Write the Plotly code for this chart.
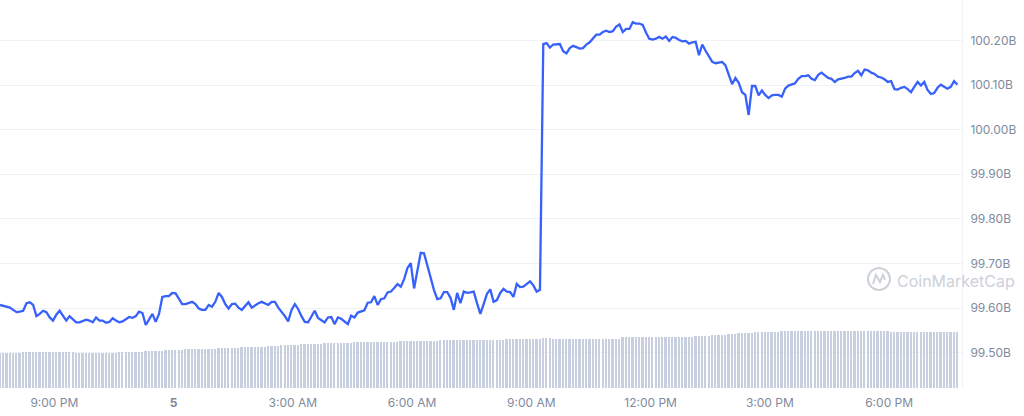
import pandas as pd
import plotly.graph_objects as go

# ---- data ----
start_time = "2023-06-04 19:38"
n_points = 290
times = pd.date_range(start_time, periods=n_points, freq="5min")

market_cap_b = [
    99.607, 99.605, 99.604, 99.601, 99.596, 99.591, 99.592, 99.594, 99.611, 99.613,
    99.607, 99.582, 99.587, 99.594, 99.591, 99.579, 99.572, 99.585, 99.594, 99.582,
    99.572, 99.582, 99.576, 99.568, 99.568, 99.571, 99.574, 99.572, 99.568, 99.579,
    99.572, 99.572, 99.567, 99.569, 99.577, 99.572, 99.568, 99.570, 99.576, 99.580,
    99.578, 99.582, 99.592, 99.589, 99.562, 99.573, 99.587, 99.569, 99.587, 99.625,
    99.627, 99.627, 99.634, 99.633, 99.622, 99.609, 99.609, 99.611, 99.614, 99.609,
    99.599, 99.596, 99.596, 99.607, 99.603, 99.614, 99.634, 99.625, 99.609, 99.599,
    99.609, 99.610, 99.601, 99.596, 99.605, 99.613, 99.601, 99.607, 99.611, 99.614,
    99.611, 99.607, 99.614, 99.614, 99.601, 99.592, 99.582, 99.570, 99.596, 99.609,
    99.598, 99.582, 99.569, 99.568, 99.582, 99.594, 99.578, 99.572, 99.568, 99.579,
    99.580, 99.564, 99.579, 99.576, 99.569, 99.564, 99.583, 99.579, 99.590, 99.593,
    99.595, 99.612, 99.613, 99.627, 99.607, 99.620, 99.622, 99.635, 99.637, 99.645,
    99.654, 99.648, 99.665, 99.690, 99.701, 99.644, 99.685, 99.724, 99.723, 99.694,
    99.665, 99.641, 99.620, 99.622, 99.636, 99.636, 99.623, 99.596, 99.634, 99.611,
    99.637, 99.634, 99.635, 99.637, 99.611, 99.587, 99.609, 99.632, 99.642, 99.614,
    99.618, 99.634, 99.643, 99.637, 99.636, 99.625, 99.654, 99.647, 99.648, 99.654,
    99.660, 99.651, 99.637, 99.641, 100.192, 100.194, 100.184, 100.191, 100.191, 100.192,
    100.176, 100.171, 100.183, 100.188, 100.185, 100.182, 100.183, 100.191, 100.196, 100.204,
    100.213, 100.213, 100.219, 100.222, 100.219, 100.221, 100.231, 100.236, 100.219, 100.226,
    100.226, 100.241, 100.238, 100.238, 100.235, 100.218, 100.204, 100.202, 100.204, 100.208,
    100.204, 100.209, 100.199, 100.208, 100.206, 100.201, 100.198, 100.199, 100.193, 100.196,
    100.197, 100.167, 100.191, 100.177, 100.163, 100.152, 100.149, 100.150, 100.152, 100.144,
    100.123, 100.102, 100.116, 100.105, 100.084, 100.078, 100.033, 100.098, 100.098, 100.077,
    100.088, 100.078, 100.071, 100.077, 100.078, 100.078, 100.074, 100.092, 100.099, 100.102,
    100.104, 100.114, 100.120, 100.120, 100.122, 100.114, 100.111, 100.123, 100.128, 100.122,
    100.116, 100.114, 100.107, 100.113, 100.114, 100.116, 100.119, 100.119, 100.127, 100.132,
    100.122, 100.135, 100.133, 100.128, 100.125, 100.119, 100.117, 100.113, 100.107, 100.109,
    100.091, 100.090, 100.094, 100.096, 100.091, 100.084, 100.096, 100.107, 100.099, 100.107,
    100.089, 100.080, 100.082, 100.094, 100.101, 100.096, 100.092, 100.096, 100.109, 100.101,
]

volume_b = [
    3.5, 3.5, 3.5, 3.5, 3.5, 3.5, 3.5, 3.6, 3.6, 3.6,
    3.6, 3.6, 3.6, 3.6, 3.6, 3.6, 3.6, 3.6, 3.6, 3.6,
    3.6, 3.6, 3.6, 3.5, 3.5, 3.5, 3.5, 3.5, 3.5, 3.5,
    3.5, 3.5, 3.5, 3.5, 3.5, 3.5, 3.6, 3.6, 3.6, 3.6,
    3.6, 3.6, 3.6, 3.6, 3.7, 3.7, 3.7, 3.7, 3.7, 3.7,
    3.8, 3.8, 3.8, 3.8, 3.8, 3.8, 3.9, 3.9, 3.9, 3.9,
    3.9, 3.9, 3.9, 3.9, 3.9, 3.9, 4.0, 4.0, 4.0, 4.0,
    4.0, 4.0, 4.0, 4.1, 4.1, 4.1, 4.1, 4.1, 4.1, 4.1,
    4.1, 4.2, 4.2, 4.2, 4.2, 4.3, 4.3, 4.3, 4.3, 4.3,
    4.3, 4.4, 4.4, 4.4, 4.4, 4.4, 4.4, 4.4, 4.5, 4.5,
    4.5, 4.5, 4.5, 4.5, 4.5, 4.5, 4.5, 4.6, 4.6, 4.6,
    4.6, 4.6, 4.6, 4.6, 4.6, 4.6, 4.6, 4.6, 4.6, 4.6,
    4.6, 4.7, 4.7, 4.7, 4.7, 4.7, 4.7, 4.7, 4.7, 4.7,
    4.7, 4.7, 4.7, 4.8, 4.8, 4.8, 4.8, 4.8, 4.8, 4.8,
    4.8, 4.8, 4.8, 4.8, 4.8, 4.8, 4.8, 4.8, 4.8, 4.8,
    4.8, 4.8, 4.8, 4.95, 4.95, 4.95, 4.95, 4.95, 4.95, 4.95,
    4.95, 4.95, 4.95, 4.95, 5.05, 5.05, 5.05, 4.95, 4.95, 4.95,
    4.95, 4.95, 4.95, 4.95, 4.95, 4.95, 4.95, 4.95, 4.95, 4.95,
    4.95, 4.95, 4.95, 4.95, 4.95, 4.95, 4.95, 4.95, 5.1, 5.1,
    5.1, 5.1, 5.1, 5.1, 5.1, 5.1, 5.1, 5.1, 5.1, 5.1,
    5.1, 5.1, 5.1, 5.1, 5.1, 5.1, 5.1, 5.1, 5.1, 5.1,
    5.2, 5.2, 5.2, 5.2, 5.2, 5.3, 5.3, 5.3, 5.3, 5.3,
    5.4, 5.4, 5.4, 5.47, 5.47, 5.47, 5.47, 5.47, 5.6, 5.6,
    5.6, 5.6, 5.6, 5.6, 5.6, 5.6, 5.7, 5.7, 5.7, 5.7,
    5.7, 5.7, 5.7, 5.7, 5.7, 5.7, 5.7, 5.7, 5.7, 5.7,
    5.7, 5.7, 5.7, 5.7, 5.7, 5.7, 5.7, 5.7, 5.7, 5.7,
    5.7, 5.7, 5.7, 5.7, 5.7, 5.7, 5.7, 5.7, 5.7, 5.6,
    5.6, 5.6, 5.6, 5.6, 5.6, 5.6, 5.6, 5.6, 5.6, 5.6,
    5.6, 5.6, 5.6, 5.6, 5.6, 5.6, 5.6, 5.6, 5.6, 5.6,
]

x_tick_times = ["2023-06-04 21:00", "2023-06-05 00:00", "2023-06-05 03:00",
                "2023-06-05 06:00", "2023-06-05 09:00", "2023-06-05 12:00",
                "2023-06-05 15:00", "2023-06-05 18:00"]
x_tick_labels = ["9:00 PM", "<b>5</b>", "3:00 AM", "6:00 AM", "9:00 AM",
                 "12:00 PM", "3:00 PM", "6:00 PM"]
y_tick_values = [99.5, 99.6, 99.7, 99.8, 99.9, 100.0, 100.1, 100.2]
y_tick_labels = ["99.50B", "99.60B", "99.70B", "99.80B", "99.90B",
                 "100.00B", "100.10B", "100.20B"]

# ---- figure ----
LABEL_GREY = "#808a9d"
GRID = "#f0f2f5"
WATERMARK = "#cdd1da"

fig = go.Figure()

fig.add_trace(go.Scatter(
    x=times, y=market_cap_b, mode="lines",
    line=dict(color="#3861fb", width=2.3),
    yaxis="y", hoverinfo="skip", showlegend=False,
))

fig.add_trace(go.Bar(
    x=times, y=volume_b, yaxis="y2",
    marker=dict(color="#c8d0e0", line=dict(width=0)),
    width=160000, hoverinfo="skip", showlegend=False,
))

fig.update_layout(
    width=1024, height=416,
    margin=dict(l=0, r=62, t=0, b=28, autoexpand=False),
    paper_bgcolor="white", plot_bgcolor="white",
    font=dict(family="Inter, Roboto, sans-serif", size=12, color=LABEL_GREY),
    bargap=0,
    xaxis=dict(
        type="date",
        range=["2023-06-04 19:38", "2023-06-05 19:50"],
        tickmode="array", tickvals=x_tick_times, ticktext=x_tick_labels,
        showgrid=False, zeroline=False, showline=False, ticks="",
        ticklabelstandoff=6,
        tickfont=dict(size=12, color=LABEL_GREY),
    ),
    yaxis=dict(
        side="right",
        range=[99.4208, 100.2908],
        tickmode="array", tickvals=y_tick_values, ticktext=y_tick_labels,
        showgrid=True, gridcolor=GRID, gridwidth=1,
        zeroline=False, showline=True, linecolor=GRID, linewidth=1,
        ticks="", ticklabelstandoff=5,
        tickfont=dict(size=12, color=LABEL_GREY),
    ),
    yaxis2=dict(
        overlaying="y", side="left", range=[0, 38.8], visible=False,
    ),
)

# CoinMarketCap watermark
fig.add_shape(
    type="circle", xref="paper", yref="paper",
    xsizemode="pixel", ysizemode="pixel",
    xanchor=0.9137, yanchor=0.281,
    x0=-11, x1=11, y0=-11, y1=11,
    line=dict(color=WATERMARK, width=2),
)
fig.add_shape(
    type="path", xref="paper", yref="paper",
    xsizemode="pixel", ysizemode="pixel",
    xanchor=0.9137, yanchor=0.281,
    path="M -6,-5 L -3,4 L 1,-3 L 4,4 L 6,-1",
    line=dict(color=WATERMARK, width=2),
)
fig.add_annotation(
    text="CoinMarketCap", xref="paper", yref="paper",
    x=0.9935, y=0.2758, xanchor="center", yanchor="middle",
    showarrow=False,
    font=dict(family="Inter, Roboto, sans-serif", size=16, color=WATERMARK),
)

fig.write_html(
    "out.html",
    config={"displayModeBar": False},
    post_script="document.body.style.margin='0';document.body.style.padding='0';",
)
